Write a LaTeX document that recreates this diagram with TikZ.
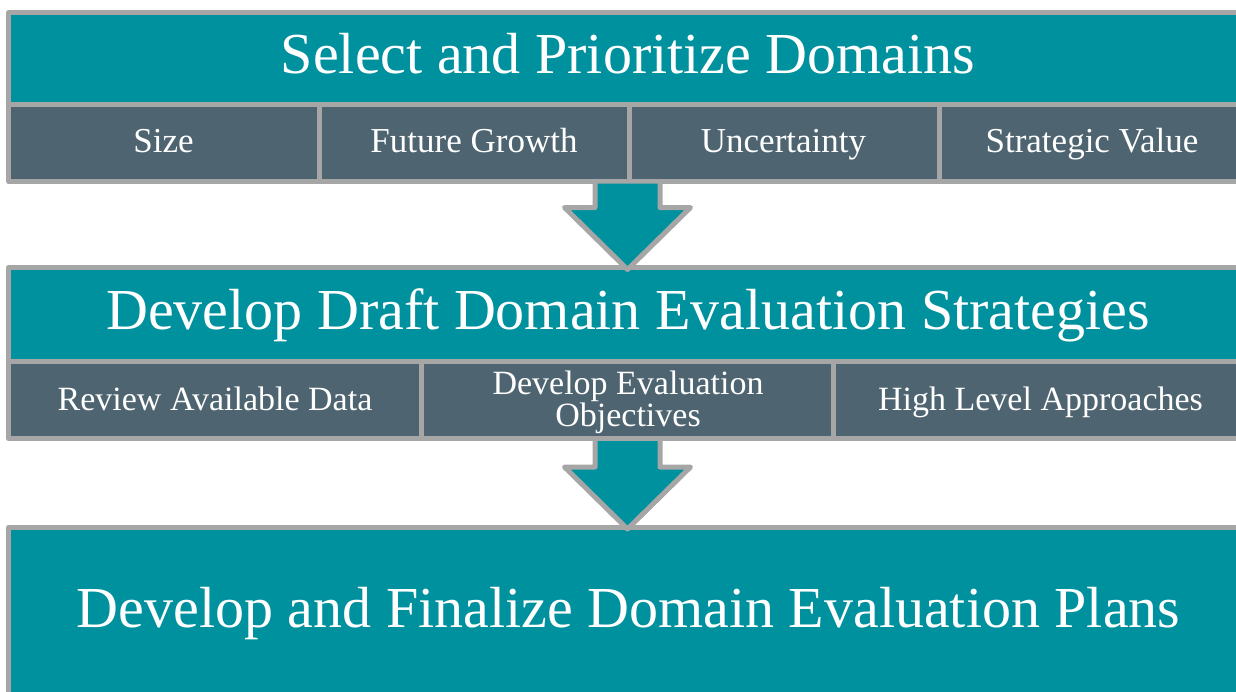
\documentclass[tikz,border=0pt]{standalone}
\usepackage{fontspec}
\setmainfont{Liberation Serif}
\usetikzlibrary{calc}
\definecolor{tealc}{HTML}{00919E}
\definecolor{slatec}{HTML}{4E6470}
\definecolor{greyc}{HTML}{A6A6A6}
\begin{document}
\begin{tikzpicture}[x=1pt,y=-1pt,
  box/.style={rectangle, draw=greyc, line width=5pt, line join=round, inner sep=0pt, outer sep=0pt, anchor=north west},
  headbox/.style={box, fill=tealc},
  cellbox/.style={box, fill=slatec},
  titletext/.style={text=white, font=\fontsize{58}{70}\selectfont, anchor=base, inner sep=0pt},
  labtext/.style={text=white, font=\fontsize{35}{40}\selectfont, anchor=base, inner sep=0pt},
  labtexttwo/.style={text=white, font=\fontsize{34}{33}\selectfont, anchor=base, inner sep=0pt, align=center},
  arrowfill/.style={fill=tealc},
  arrowline/.style={draw=greyc, line width=5pt, line join=round}]
\useasboundingbox (0,0) rectangle (1236,691);
\clip (0,0) rectangle (1236,691);
\fill[white] (0,0) rectangle (1236,691);
% block 1
\node[headbox, minimum width=1237.5pt, minimum height=91.5pt] (h1) at (8.5,12.5) {};
\node[cellbox, minimum width=310.5pt, minimum height=77.5pt] (c11) at (8.5,104) {};
\node[cellbox, minimum width=310pt, minimum height=77.5pt] (c12) at (319,104) {};
\node[cellbox, minimum width=310pt, minimum height=77.5pt] (c13) at (629,104) {};
\node[cellbox, minimum width=307pt, minimum height=77.5pt] (c14) at (939,104) {};
% block 2
\node[headbox, minimum width=1237.5pt, minimum height=94pt] (h2) at (8.5,267.5) {};
\node[cellbox, minimum width=413pt, minimum height=77pt] (c21) at (8.5,361.5) {};
\node[cellbox, minimum width=412pt, minimum height=77pt] (c22) at (421.5,361.5) {};
\node[cellbox, minimum width=412.5pt, minimum height=77pt] (c23) at (833.5,361.5) {};
% block 3
\node[headbox, minimum width=1237.5pt, minimum height=200pt] (h3) at (8.5,527.5) {};
% texts
\node[titletext] (t1) at (628,73) {Select and Prioritize Domains};
\node[titletext] (t2) at (628,329) {Develop Draft Domain Evaluation Strategies};
\node[titletext] (t3) at (628.5,627) {Develop and Finalize Domain Evaluation Plans};
\node[labtext] (l11) at (163.5,152) {Size};
\node[labtext] (l12) at (474,152) {Future Growth};
\node[labtext] (l13) at (783.5,152) {Uncertainty};
\node[labtext] (l14) at (1092,152) {Strategic Value};
\node[labtext, font=\fontsize{34}{40}\selectfont] (l21) at (215,410) {Review Available Data};
\node[labtexttwo] (l22) at (628,394) {Develop Evaluation};
\node[labtexttwo] (l22b) at (628,426) {Objectives};
\node[labtext, font=\fontsize{34}{40}\selectfont] (l23) at (1040.5,410) {High Level Approaches};
% arrows
\coordinate (a1s) at (627.5,181);
\coordinate (a1e) at ($(a1s |- h2.north)+(0,2)$);
\fill[arrowfill] ($(a1s)+(-32.5,2.5)$) -- ($(a1e)+(-32.5,-62)$) -- ($(a1e)+(-63,-62)$) -- (a1e) -- ($(a1e)+(63,-62)$) -- ($(a1e)+(32.5,-62)$) -- ($(a1s)+(32.5,2.5)$) -- cycle;
\draw[arrowline] ($(a1s)+(-32.5,0)$) -- ($(a1e)+(-32.5,-62)$) -- ($(a1e)+(-63,-62)$) -- (a1e) -- ($(a1e)+(63,-62)$) -- ($(a1e)+(32.5,-62)$) -- ($(a1s)+(32.5,0)$);
\coordinate (a2s) at (627.5,438.5);
\coordinate (a2e) at ($(a2s |- h3.north)+(0,1.5)$);
\fill[arrowfill] ($(a2s)+(-32.5,2.5)$) -- ($(a2e)+(-32.5,-62)$) -- ($(a2e)+(-63,-62)$) -- (a2e) -- ($(a2e)+(63,-62)$) -- ($(a2e)+(32.5,-62)$) -- ($(a2s)+(32.5,2.5)$) -- cycle;
\draw[arrowline] ($(a2s)+(-32.5,0)$) -- ($(a2e)+(-32.5,-62)$) -- ($(a2e)+(-63,-62)$) -- (a2e) -- ($(a2e)+(63,-62)$) -- ($(a2e)+(32.5,-62)$) -- ($(a2s)+(32.5,0)$);
\end{tikzpicture}
\end{document}
